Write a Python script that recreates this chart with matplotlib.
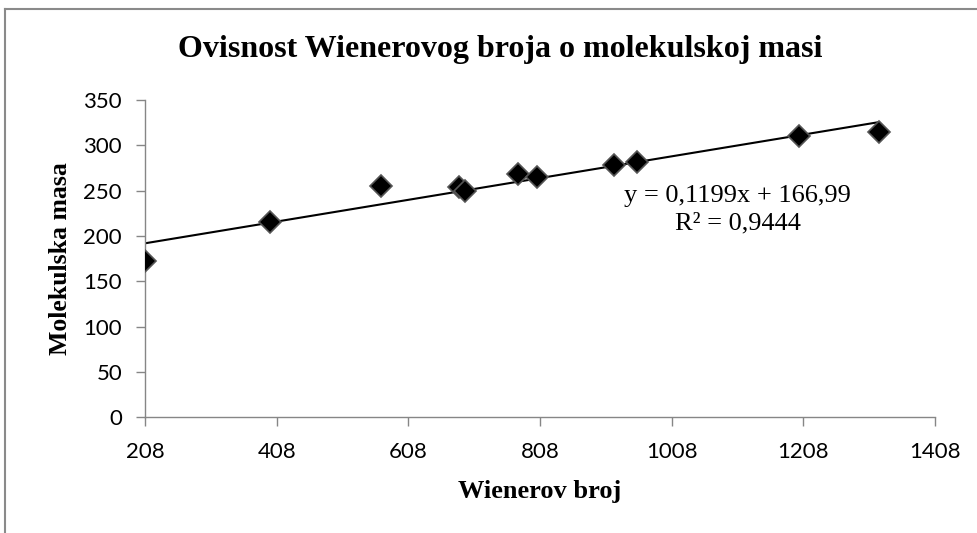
import matplotlib.pyplot as plt
import numpy as np
from matplotlib.lines import Line2D

# Data
wiener = [208, 398, 567, 685, 694, 775, 803, 921, 956, 1201, 1323]
mass = [172.8, 215, 255.5, 254.4, 249.7, 268, 264.8, 278.7, 281.3, 310.7, 314.7]
slope = 0.1199
intercept = 166.99
x_ticks = [208, 408, 608, 808, 1008, 1208, 1408]
y_ticks = [0, 50, 100, 150, 200, 250, 300, 350]

title = "Ovisnost Wienerovog broja o molekulskoj masi"
x_label = "Wienerov broj"
y_label = "Molekulska masa"
eq_text = "y = 0,1199x + 166,99\nR² = 0,9444"

serif = "Liberation Serif"
sans = "Lato"
axis_grey = "#868686"

fig = plt.figure(figsize=(9.78, 5.33), dpi=100)
ax = fig.add_axes([145 / 978, 1 - 417.3 / 533, (935 - 145) / 978, (417.3 - 100) / 533])

# Trendline
x_line = np.array([min(wiener), max(wiener)])
ax.plot(x_line, slope * x_line + intercept, color="black", lw=1.5, zorder=2)

# Data points
ax.plot(wiener, mass, linestyle="none", marker="D", markersize=11,
        markerfacecolor="black", markeredgecolor="#555555", markeredgewidth=1.2, zorder=3)

ax.set_xlim(208, 1408)
ax.set_ylim(0, 350)
ax.set_xticks(x_ticks)
ax.set_yticks(y_ticks)
ax.set_xticklabels([str(t) for t in x_ticks], fontfamily=sans, fontsize=16)
ax.set_yticklabels([str(t) for t in y_ticks], fontfamily=sans, fontsize=16)
ax.tick_params(axis="both", direction="out", length=6.5, width=1, color=axis_grey)
ax.tick_params(axis="y", pad=10)
ax.tick_params(axis="x", pad=11)

for side in ["top", "right"]:
    ax.spines[side].set_visible(False)
for side in ["left", "bottom"]:
    ax.spines[side].set_color(axis_grey)
    ax.spines[side].set_linewidth(1)

ax.set_xlabel(x_label, fontfamily=serif, fontweight="bold", fontsize=19, labelpad=13)
ax.set_ylabel(y_label, fontfamily=serif, fontweight="bold", fontsize=18.5, labelpad=8)

fig.text(500 / 978, 1 - 50 / 533, title, fontfamily=serif, fontweight="bold",
         fontsize=23, ha="center", va="center")

ax.text(1108, 229, eq_text, fontfamily=serif, fontsize=19, ha="center", va="center",
        linespacing=1.3)

# Chart area border (only left and top are visible in the picture)
fig.add_artist(Line2D([4.5 / 978, 4.5 / 978], [0, 1 - 9 / 533], transform=fig.transFigure,
                      color="#8a8a8a", lw=1.5))
fig.add_artist(Line2D([4.5 / 978, 1], [1 - 9 / 533, 1 - 9 / 533], transform=fig.transFigure,
                      color="#8a8a8a", lw=1.5))

fig.savefig("out.png", dpi=100)
